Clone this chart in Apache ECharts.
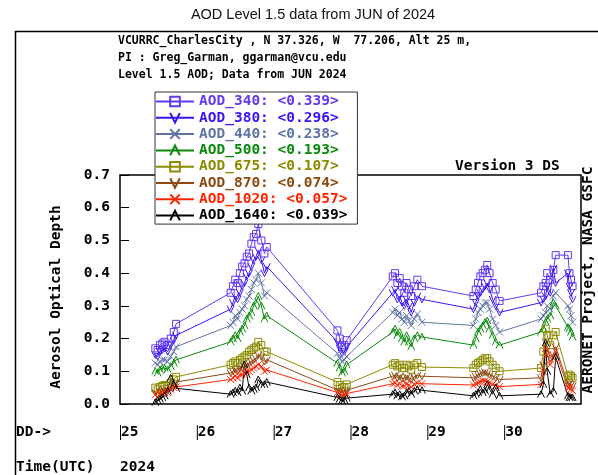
<!DOCTYPE html>
<html>
<head>
<meta charset="utf-8">
<script src="https://cdn.jsdelivr.net/npm/echarts@6/dist/echarts.min.js"></script>
<style>
html,body{margin:0;padding:0;background:#fff;}
#chart{width:598px;height:475px;}
</style>
</head>
<body>
<div id="chart"></div>
<script>
// fractional day of JUN 2024 (UTC)
const times = [
  25.46, 25.49, 25.52, 25.55, 25.58, 25.62, 25.66, 25.70, 25.73,
  26.44, 26.47, 26.50, 26.53, 26.56, 26.59, 26.62, 26.65, 26.68, 26.71, 26.74, 26.77, 26.80, 26.84, 26.88, 26.91,
  27.83, 27.86, 27.89, 27.92, 27.95,
  28.55, 28.58, 28.61, 28.64, 28.67, 28.70, 28.73, 28.76, 28.79, 28.83, 28.87, 28.93,
  29.60, 29.63, 29.66, 29.69, 29.72, 29.75, 29.78, 29.81, 29.85, 29.89, 29.94,
  30.48, 30.51, 30.54, 30.56, 30.60, 30.64, 30.67, 30.83, 30.85, 30.87, 30.89
];

const aod340 = [
  0.17, 0.165, 0.18, 0.185, 0.19, 0.18, 0.20, 0.22, 0.245,
  0.34, 0.36, 0.38, 0.37, 0.40, 0.42, 0.43, 0.45, 0.46, 0.49, 0.51, 0.52, 0.55, 0.50, 0.46, 0.48,
  0.225, 0.20, 0.175, 0.18, 0.195,
  0.39, 0.40, 0.37, 0.385, 0.36, 0.34, 0.37, 0.35, 0.33, 0.36, 0.38, 0.36,
  0.33, 0.35, 0.37, 0.39, 0.40, 0.41, 0.425, 0.40, 0.37, 0.35, 0.315,
  0.34, 0.36, 0.37, 0.40, 0.38, 0.41, 0.455, 0.455, 0.40, 0.38, 0.36
];
const aod380 = [
  0.15, 0.145, 0.16, 0.165, 0.17, 0.16, 0.18, 0.195, 0.21,
  0.29, 0.31, 0.33, 0.32, 0.34, 0.36, 0.37, 0.39, 0.40, 0.42, 0.44, 0.45, 0.47, 0.44, 0.40, 0.42,
  0.19, 0.17, 0.155, 0.16, 0.175,
  0.34, 0.35, 0.32, 0.33, 0.31, 0.30, 0.32, 0.30, 0.28, 0.31, 0.33, 0.32,
  0.29, 0.31, 0.33, 0.34, 0.35, 0.36, 0.37, 0.35, 0.32, 0.30, 0.28,
  0.31, 0.32, 0.33, 0.36, 0.34, 0.415, 0.37, 0.40, 0.36, 0.34, 0.32
];
const aod440 = [
  0.125, 0.12, 0.13, 0.135, 0.135, 0.13, 0.145, 0.16, 0.175,
  0.24, 0.25, 0.27, 0.26, 0.28, 0.29, 0.30, 0.32, 0.33, 0.35, 0.37, 0.38, 0.40, 0.37, 0.33, 0.34,
  0.155, 0.14, 0.13, 0.135, 0.145,
  0.28, 0.29, 0.27, 0.28, 0.26, 0.25, 0.27, 0.255, 0.24, 0.26, 0.275, 0.25,
  0.24, 0.26, 0.28, 0.29, 0.30, 0.31, 0.31, 0.29, 0.26, 0.24, 0.22,
  0.26, 0.27, 0.28, 0.30, 0.29, 0.33, 0.34, 0.30, 0.29, 0.27, 0.25
];
const aod500 = [
  0.10, 0.095, 0.105, 0.11, 0.11, 0.105, 0.115, 0.125, 0.135,
  0.19, 0.20, 0.21, 0.20, 0.22, 0.23, 0.24, 0.26, 0.27, 0.28, 0.30, 0.31, 0.33, 0.30, 0.26, 0.27,
  0.125, 0.11, 0.095, 0.10, 0.12,
  0.22, 0.23, 0.21, 0.22, 0.20, 0.19, 0.21, 0.19, 0.175, 0.20, 0.21, 0.205,
  0.18, 0.20, 0.22, 0.23, 0.24, 0.25, 0.255, 0.23, 0.21, 0.19, 0.18,
  0.22, 0.23, 0.25, 0.26, 0.27, 0.31, 0.30, 0.235, 0.23, 0.22, 0.205
];
const aod675 = [
  0.05, 0.045, 0.052, 0.055, 0.058, 0.055, 0.065, 0.075, 0.083,
  0.12, 0.125, 0.13, 0.125, 0.135, 0.14, 0.145, 0.15, 0.16, 0.165, 0.17, 0.175, 0.19, 0.18, 0.16, 0.16,
  0.067, 0.058, 0.05, 0.052, 0.06,
  0.12, 0.125, 0.115, 0.12, 0.11, 0.11, 0.12, 0.115, 0.105, 0.12, 0.125, 0.113,
  0.11, 0.12, 0.125, 0.13, 0.135, 0.14, 0.14, 0.13, 0.12, 0.11, 0.10,
  0.11, 0.16, 0.23, 0.21, 0.18, 0.21, 0.22, 0.085, 0.09, 0.085, 0.08
];
const aod870 = [
  0.035, 0.03, 0.038, 0.04, 0.043, 0.04, 0.05, 0.06, 0.067,
  0.095, 0.10, 0.105, 0.10, 0.11, 0.11, 0.115, 0.12, 0.125, 0.13, 0.135, 0.14, 0.15, 0.145, 0.13, 0.135,
  0.043, 0.04, 0.035, 0.037, 0.042,
  0.085, 0.088, 0.08, 0.085, 0.078, 0.078, 0.083, 0.08, 0.075, 0.083, 0.087, 0.085,
  0.08, 0.085, 0.09, 0.092, 0.095, 0.098, 0.095, 0.09, 0.085, 0.08, 0.075,
  0.08, 0.12, 0.19, 0.17, 0.14, 0.15, 0.175, 0.06, 0.065, 0.06, 0.055
];
const aod1020 = [
  0.028, 0.022, 0.03, 0.032, 0.035, 0.035, 0.045, 0.05, 0.052,
  0.075, 0.08, 0.085, 0.08, 0.09, 0.09, 0.095, 0.10, 0.10, 0.105, 0.11, 0.115, 0.12, 0.115, 0.10, 0.104,
  0.035, 0.03, 0.025, 0.028, 0.032,
  0.062, 0.065, 0.058, 0.062, 0.055, 0.055, 0.06, 0.058, 0.052, 0.06, 0.064, 0.062,
  0.058, 0.062, 0.065, 0.068, 0.07, 0.07, 0.068, 0.065, 0.06, 0.057, 0.053,
  0.06, 0.10, 0.17, 0.15, 0.12, 0.14, 0.16, 0.05, 0.05, 0.045, 0.04
];
const aod1640 = [
  0.005, 0.01, 0.015, 0.02, 0.025, 0.04, 0.08, 0.06, 0.048,
  0.03, 0.035, 0.04, 0.035, 0.05, 0.04, 0.12, 0.09, 0.05, 0.04, 0.045, 0.05, 0.075, 0.06, 0.06, 0.067,
  0.02, 0.015, 0.01, 0.012, 0.018,
  0.03, 0.035, 0.025, 0.03, 0.022, 0.025, 0.035, 0.04, 0.03, 0.04, 0.045, 0.042,
  0.025, 0.03, 0.035, 0.045, 0.035, 0.04, 0.06, 0.045, 0.03, 0.05, 0.025,
  0.03, 0.06, 0.187, 0.10, 0.03, 0.04, 0.144, 0.025, 0.02, 0.02, 0.02
];

const names = ['AOD_340', 'AOD_380', 'AOD_440', 'AOD_500', 'AOD_675', 'AOD_870', 'AOD_1020', 'AOD_1640'];
const means = ['0.339', '0.296', '0.238', '0.193', '0.107', '0.074', '0.057', '0.039'];
const dayTicks = [25, 26, 27, 28, 29, 30];

const values = [aod340, aod380, aod440, aod500, aod675, aod870, aod1020, aod1640];
const colors = ['#6238f2', '#3a14f2', '#5f74a6', '#0a8a0a', '#8c8c00', '#8b4a12', '#ff2400', '#000000'];

const SQ = 'rect';
const VDOWN = 'path://M0,0 L5,10 L10,0';
const VUP = 'path://M0,10 L5,0 L10,10';
const CROSS = 'path://M0,0 L10,10 M10,0 L0,10';
const symbols = [SQ, VDOWN, CROSS, VUP, SQ, VDOWN, CROSS, VUP];

const mono = "'DejaVu Sans Mono', monospace";

var chart = echarts.init(document.getElementById('chart'));

var series = names.map(function (n, k) {
  return {
    name: n,
    type: 'line',
    data: times.map(function (t, i) { return [t, values[k][i]]; }),
    symbol: symbols[k],
    symbolSize: 7,
    showAllSymbol: true,
    lineStyle: { color: colors[k], width: 1 },
    itemStyle: { color: 'rgba(0,0,0,0)', borderColor: colors[k], borderWidth: 1 },
    emphasis: { disabled: true },
    animation: false
  };
});

var option = {
  animation: false,
  grid: {
    left: 120, right: 17, top: 175, bottom: 71,
    show: true, borderColor: '#000', borderWidth: 1.5, backgroundColor: 'transparent'
  },
  xAxis: {
    type: 'value', min: 25, max: 31, interval: 1,
    axisLine: { show: false },
    splitLine: { show: false },
    axisTick: { show: false },
    axisLabel: {
      customValues: dayTicks,
      margin: 21, align: 'left',
      color: '#000', fontFamily: mono, fontWeight: 'bold', fontSize: 14.5,
      formatter: function (v) { return '{bar|}' + v; },
      rich: {
        bar: { width: 1, height: 15, backgroundColor: '#000', padding: 0 }
      }
    }
  },
  yAxis: {
    type: 'value', min: 0, max: 0.7, interval: 0.1,
    axisLine: { show: false },
    splitLine: { show: false },
    axisTick: { show: true, inside: true, length: 9, lineStyle: { color: '#000', width: 1 } },
    axisLabel: {
      margin: 10, color: '#000', fontFamily: mono, fontWeight: 'bold', fontSize: 14.5,
      formatter: function (v) { return v.toFixed(1); }
    }
  },
  legend: {
    orient: 'vertical',
    left: 155, top: 92,
    padding: [2, 10, 1, 0],
    itemWidth: 38, itemHeight: 12, itemGap: 1.3,
    backgroundColor: '#fff', borderColor: '#333', borderWidth: 1,
    selectedMode: false,
    data: names.map(function (n, k) {
      return { name: n, textStyle: { color: colors[k] } };
    }),
    textStyle: { fontFamily: mono, fontWeight: 'bold', fontSize: 14.5, lineHeight: 14 },
    formatter: function (n) { return n + ': <' + means[names.indexOf(n)] + '>'; }
  },
  graphic: [
    { type: 'line', shape: { x1: 15.5, y1: 31, x2: 15.5, y2: 475 }, style: { stroke: '#000', lineWidth: 1.5 } },
    { type: 'line', shape: { x1: 15, y1: 31.5, x2: 598, y2: 31.5 }, style: { stroke: '#000', lineWidth: 1.5 } },
    { type: 'text', x: 313, y: 15, style: { text: 'AOD Level 1.5 data from JUN of 2024', fill: '#111', font: "14.5px 'Liberation Sans', Arial, sans-serif", align: 'center', verticalAlign: 'middle' } },
    { type: 'text', x: 118, y: 41, style: { text: 'VCURRC_CharlesCity , N 37.326, W  77.206, Alt 25 m,', fill: '#000', font: "bold 11.5px " + mono, verticalAlign: 'middle' } },
    { type: 'text', x: 118, y: 58, style: { text: 'PI : Greg_Garman, ggarman@vcu.edu', fill: '#000', font: "bold 11.5px " + mono, verticalAlign: 'middle' } },
    { type: 'text', x: 118, y: 75, style: { text: 'Level 1.5 AOD; Data from JUN 2024', fill: '#000', font: "bold 11.5px " + mono, verticalAlign: 'middle' } },
    { type: 'text', x: 455, y: 166, style: { text: 'Version 3 DS', fill: '#000', font: "bold 14.5px " + mono, verticalAlign: 'middle' } },
    { type: 'text', x: 588, y: 280, rotation: Math.PI / 2, style: { text: 'AERONET Project, NASA GSFC', fill: '#000', font: "bold 14.5px " + mono, align: 'center', verticalAlign: 'middle' } },
    { type: 'text', x: 56, y: 297, rotation: Math.PI / 2, style: { text: 'Aerosol Optical Depth', fill: '#000', font: "bold 14.5px " + mono, align: 'center', verticalAlign: 'middle' } },
    { type: 'text', x: 16, y: 432, style: { text: 'DD->', fill: '#000', font: "bold 14.5px " + mono, verticalAlign: 'middle' } },
    { type: 'text', x: 16, y: 467, style: { text: 'Time(UTC)', fill: '#000', font: "bold 14.5px " + mono, verticalAlign: 'middle' } },
    { type: 'text', x: 120, y: 467, style: { text: '2024', fill: '#000', font: "bold 14.5px " + mono, verticalAlign: 'middle' } }
  ],
  series: series
};

chart.setOption(option);
</script>
</body>
</html>
